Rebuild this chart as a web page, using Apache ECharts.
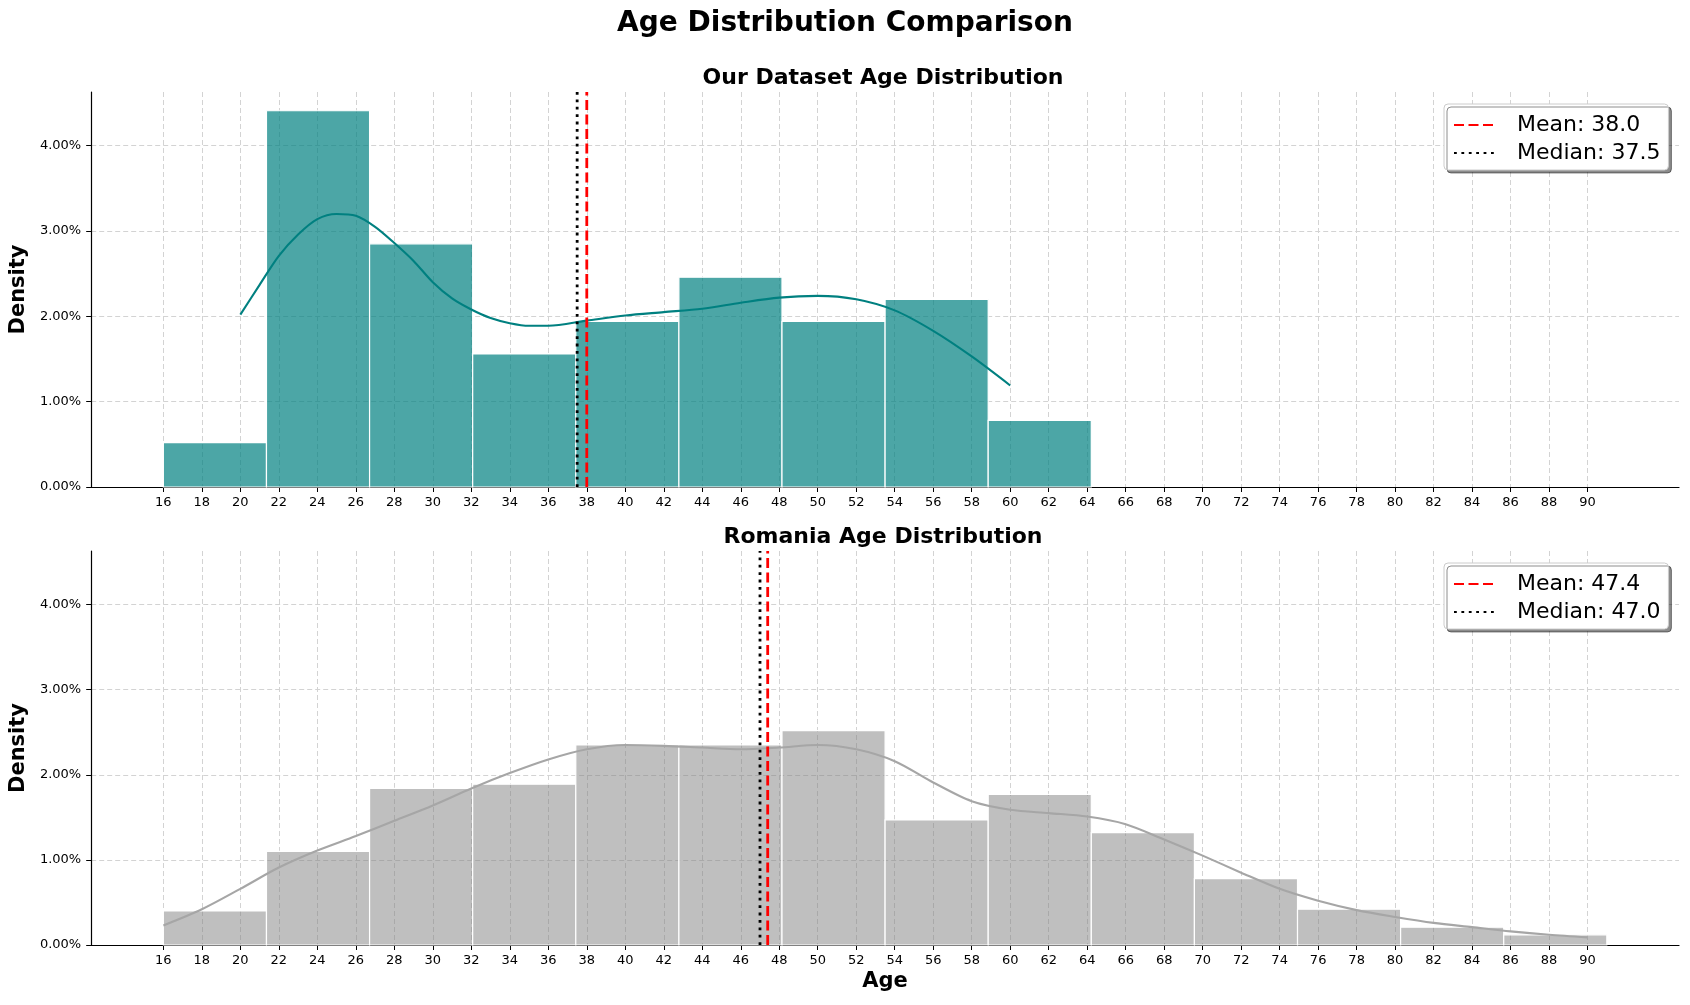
<!DOCTYPE html>
<html>
<head>
<meta charset="utf-8">
<script src="https://cdn.jsdelivr.net/npm/echarts@6/dist/echarts.min.js"></script>
<style>
  html, body { margin: 0; padding: 0; background: #fff; }
  #chart { width: 1690px; height: 1005px; }
</style>
</head>
<body>
<div id="chart"></div>
<script>
// histogram bin edges (14 bins from 16 to 91)
const binEdges = [16, 21.357, 26.714, 32.071, 37.429, 42.786, 48.143, 53.5, 58.857, 64.214, 69.571, 74.929, 80.286, 85.643, 91]

// densities in %
const ourDensity = [0.52, 4.41, 2.85, 1.56, 1.94, 2.46, 1.94, 2.20, 0.78]
const romaniaDensity = [0.40, 1.10, 1.84, 1.89, 2.35, 2.35, 2.52, 1.47, 1.77, 1.32, 0.78, 0.42, 0.21, 0.12]

// kde curves
const ourKdeAge = [20, 21, 22, 23, 24, 25, 26, 27, 28, 29, 30, 31, 32, 33, 34, 35, 36, 38, 40, 42, 44, 46, 48, 50, 52, 54, 56, 58, 60]
const ourKdeVal = [2.02, 2.37, 2.71, 2.96, 3.14, 3.20, 3.18, 3.05, 2.86, 2.65, 2.40, 2.21, 2.08, 1.98, 1.92, 1.89, 1.89, 1.95, 2.01, 2.05, 2.09, 2.16, 2.22, 2.24, 2.20, 2.07, 1.83, 1.53, 1.19]
const romaniaKdeAge = [16, 18, 20, 22, 24, 26, 28, 30, 32, 34, 36, 38, 40, 42, 44, 46, 48, 50, 52, 54, 56, 58, 60, 62, 64, 66, 68, 70, 72, 74, 76, 78, 80, 82, 84, 86, 88, 90]
const romaniaKdeVal = [0.23, 0.42, 0.66, 0.91, 1.11, 1.28, 1.46, 1.64, 1.84, 2.02, 2.18, 2.30, 2.35, 2.34, 2.32, 2.30, 2.32, 2.35, 2.30, 2.16, 1.91, 1.69, 1.59, 1.55, 1.51, 1.42, 1.24, 1.05, 0.85, 0.66, 0.52, 0.41, 0.33, 0.26, 0.21, 0.16, 0.12, 0.09]

const ourStats = { mean: 38.0, median: 37.5 }
const romaniaStats = { mean: 47.4, median: 47.0 }

// tick labels
const ageTicks = [16, 18, 20, 22, 24, 26, 28, 30, 32, 34, 36, 38, 40, 42, 44, 46, 48, 50, 52, 54, 56, 58, 60, 62, 64, 66, 68, 70, 72, 74, 76, 78, 80, 82, 84, 86, 88, 90]
const densityTicks = [0, 1, 2, 3, 4]

const X_MIN = 12.25
const X_MAX = 94.75
const Y_MAX = 4.63

const FONT = 'DejaVu Sans'
const GRID_LINE = { show: true, lineStyle: { color: '#d3d3d3', type: [5, 3], width: 1 } }

function histData(density) {
  return density.map((v, i) => [binEdges[i], binEdges[i + 1], v])
}

function renderBin(params, api) {
  const p0 = api.coord([api.value(0), api.value(2)])
  const p1 = api.coord([api.value(1), 0])
  return {
    type: 'rect',
    shape: { x: p0[0], y: p0[1], width: p1[0] - p0[0], height: p1[1] - p0[1] },
    style: { fill: api.visual('color'), stroke: '#ffffff', lineWidth: 1.2 }
  }
}

function xAxisOpt(gridIndex, withName) {
  return {
    type: 'value',
    gridIndex: gridIndex,
    min: X_MIN,
    max: X_MAX,
    name: withName ? 'Age' : '',
    nameLocation: 'middle',
    nameGap: 26,
    nameTextStyle: { fontFamily: FONT, fontSize: 21, fontWeight: 'bold', color: '#000' },
    axisLine: { show: true, onZero: false, lineStyle: { color: '#000', width: 1.2 } },
    axisTick: { show: true, length: 5, lineStyle: { color: '#000' }, customValues: ageTicks },
    axisLabel: { fontFamily: FONT, fontSize: 13, color: '#000', margin: 9, customValues: ageTicks },
    splitLine: GRID_LINE
  }
}

function yAxisOpt(gridIndex) {
  return {
    type: 'value',
    gridIndex: gridIndex,
    min: 0,
    max: Y_MAX,
    name: 'Density',
    nameLocation: 'middle',
    nameGap: 54,
    nameTextStyle: { fontFamily: FONT, fontSize: 21, fontWeight: 'bold', color: '#000' },
    axisLine: { show: true, lineStyle: { color: '#000', width: 1.2 } },
    axisTick: { show: true, length: 5, lineStyle: { color: '#000' }, customValues: densityTicks },
    axisLabel: {
      fontFamily: FONT, fontSize: 13, color: '#000', margin: 10, customValues: densityTicks,
      formatter: v => v.toFixed(2) + '%'
    },
    splitLine: GRID_LINE
  }
}

function vline(name, x, idx, color, dash) {
  return {
    name: name,
    type: 'line',
    xAxisIndex: idx,
    yAxisIndex: idx,
    data: [[x, 0], [x, Y_MAX]],
    symbol: 'none',
    silent: true,
    z: 10,
    itemStyle: { color: color, opacity: 0 },
    lineStyle: { color: color, width: 2.8, type: dash }
  }
}

function legendOpt(top, names) {
  return {
    orient: 'vertical',
    left: 1444,
    top: top,
    padding: [10, 8, 6, 9],
    itemWidth: 40,
    itemHeight: 22,
    itemGap: 6,
    backgroundColor: '#fff',
    borderColor: '#cccccc',
    borderWidth: 1,
    borderRadius: 4,
    shadowColor: 'rgba(0,0,0,0.45)',
    shadowBlur: 0,
    shadowOffsetX: 3,
    shadowOffsetY: 3,
    selectedMode: false,
    itemStyle: { opacity: 0 },
    textStyle: { fontFamily: FONT, fontSize: 22, color: '#000', lineHeight: 22, padding: [0, 0, 0, 18] },
    data: names
  }
}

const chart = echarts.init(document.getElementById('chart'), null, { renderer: 'canvas' })

chart.setOption({
  animation: false,
  backgroundColor: '#fff',
  textStyle: { fontFamily: FONT },
  title: [
    {
      text: 'Age Distribution Comparison',
      left: 845, top: 10, textAlign: 'center', padding: 0,
      textStyle: { fontFamily: FONT, fontSize: 28, fontWeight: 'bold', color: '#000' }
    },
    {
      text: 'Our Dataset Age Distribution',
      left: 883, top: 67, textAlign: 'center', padding: 0,
      textStyle: { fontFamily: FONT, fontSize: 22, fontWeight: 'bold', color: '#000' }
    },
    {
      text: 'Romania Age Distribution',
      left: 883, top: 526, textAlign: 'center', padding: 0,
      textStyle: { fontFamily: FONT, fontSize: 22, fontWeight: 'bold', color: '#000' }
    }
  ],
  legend: [
    legendOpt(104, ['Mean: 38.0', 'Median: 37.5']),
    legendOpt(563, ['Mean: 47.4', 'Median: 47.0'])
  ],
  grid: [
    { left: 88, right: 11, top: 92, height: 395 },
    { left: 88, right: 11, top: 551, height: 394 }
  ],
  xAxis: [xAxisOpt(0, false), xAxisOpt(1, true)],
  yAxis: [yAxisOpt(0), yAxisOpt(1)],
  series: [
    {
      name: 'Our Dataset',
      type: 'custom',
      xAxisIndex: 0,
      yAxisIndex: 0,
      renderItem: renderBin,
      itemStyle: { color: 'rgba(0,128,128,0.7)' },
      encode: { x: [0, 1], y: 2 },
      data: histData(ourDensity),
      z: 2
    },
    {
      name: 'Our KDE',
      type: 'line',
      xAxisIndex: 0,
      yAxisIndex: 0,
      data: ourKdeAge.map((a, i) => [a, ourKdeVal[i]]),
      smooth: 0.3,
      symbol: 'none',
      lineStyle: { color: '#008080', width: 2.1 },
      z: 5
    },
    vline('Mean: 38.0', ourStats.mean, 0, '#ff0000', [10, 4.5]),
    vline('Median: 37.5', ourStats.median, 0, '#000000', [2.8, 4.6]),
    {
      name: 'Romania',
      type: 'custom',
      xAxisIndex: 1,
      yAxisIndex: 1,
      renderItem: renderBin,
      itemStyle: { color: 'rgba(128,128,128,0.5)' },
      encode: { x: [0, 1], y: 2 },
      data: histData(romaniaDensity),
      z: 2
    },
    {
      name: 'Romania KDE',
      type: 'line',
      xAxisIndex: 1,
      yAxisIndex: 1,
      data: romaniaKdeAge.map((a, i) => [a, romaniaKdeVal[i]]),
      smooth: 0.3,
      symbol: 'none',
      lineStyle: { color: '#a6a6a6', width: 2.1 },
      z: 5
    },
    vline('Mean: 47.4', romaniaStats.mean, 1, '#ff0000', [10, 4.5]),
    vline('Median: 47.0', romaniaStats.median, 1, '#000000', [2.8, 4.6])
  ]
})
</script>
</body>
</html>
